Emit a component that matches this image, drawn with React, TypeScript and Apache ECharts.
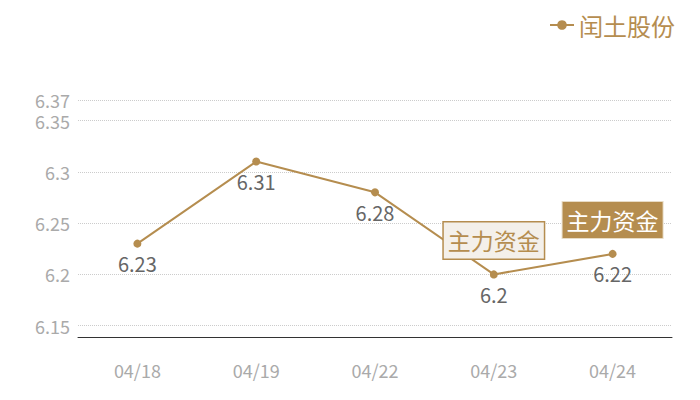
import React, { useEffect, useRef } from 'react';
import * as echarts from 'echarts';

const dates = ['04/18', '04/19', '04/22', '04/23', '04/24'];
const prices = [6.23, 6.31, 6.28, 6.2, 6.22];
const seriesName = '闰土股份';
const markText = '主力资金';

const gold = '#b58d4f';
const font = '"Noto Sans CJK SC", "Noto Sans", sans-serif';

const Chart: React.FC = () => {
  const chartRef = useRef<HTMLDivElement | null>(null);

  useEffect(() => {
    if (!chartRef.current) return;
    const myChart = echarts.init(chartRef.current, undefined, { renderer: 'svg' });

    myChart.setOption({
      animation: false,
      textStyle: { fontFamily: font },
      legend: {
        data: [seriesName],
        right: 12,
        top: 0,
        padding: 5,
        itemWidth: 24,
        itemHeight: 12,
        textStyle: { color: gold, fontSize: 24, fontFamily: font },
      },
      grid: { left: 70, right: 20, top: 92, bottom: 55 },
      xAxis: {
        type: 'category',
        data: dates,
        axisLine: { lineStyle: { color: '#333', width: 1 } },
        axisTick: { show: false },
        axisLabel: { color: '#aaa', fontSize: 18, margin: 24 },
      },
      yAxis: {
        type: 'value',
        min: 6.139,
        max: 6.37,
        axisLine: { show: false },
        axisTick: { show: false },
        axisLabel: { color: '#aaa', fontSize: 18, margin: 8, showMinLabel: false },
        splitLine: { lineStyle: { color: '#ccc', type: 'dotted' } },
      },
      series: [
        {
          name: seriesName,
          type: 'line',
          data: prices,
          symbol: 'circle',
          symbolSize: 8,
          itemStyle: { color: gold },
          lineStyle: { color: gold, width: 2 },
          label: { show: true, position: 'bottom', color: '#666', fontSize: 20, distance: 6 },
          markPoint: {
            symbol: 'rect',
            symbolSize: 0,
            data: [
              {
                coord: [dates[3], prices[3]],
                label: {
                  show: true,
                  formatter: markText,
                  offset: [0, -34],
                  color: gold,
                  fontSize: 23,
                  backgroundColor: '#f4f0ea',
                  borderColor: gold,
                  borderWidth: 1.5,
                  padding: [7, 4, 6, 4],
                },
              },
              {
                coord: [dates[4], prices[4]],
                label: {
                  show: true,
                  formatter: markText,
                  offset: [0, -34],
                  color: '#fff',
                  fontSize: 23,
                  backgroundColor: gold,
                  borderColor: '#e8dcc6',
                  borderWidth: 1,
                  padding: [7, 4, 6, 4],
                },
              },
            ],
          },
        },
      ],
    });

    return () => {
      myChart.dispose();
    };
  }, []);

  return <div ref={chartRef} style={{ width: '684px', height: '384px' }} />;
};

export default function App() {
  return <Chart />;
}
